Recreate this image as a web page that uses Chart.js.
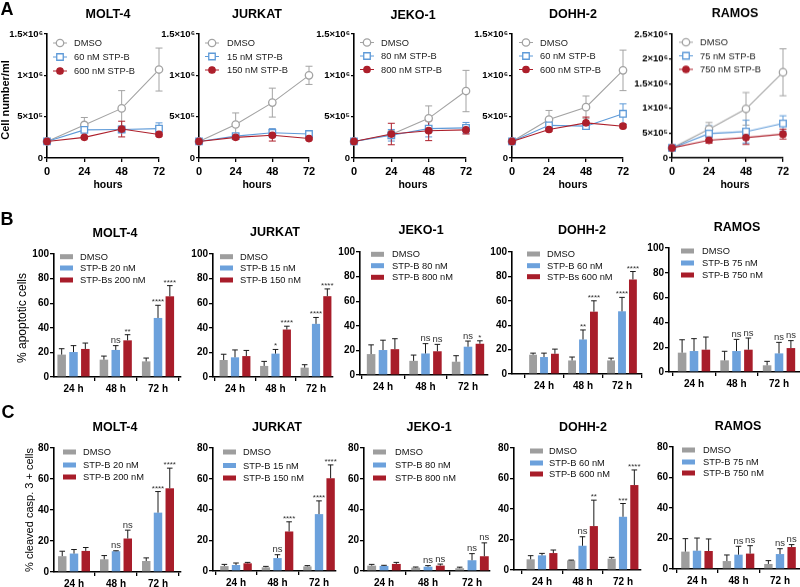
<!DOCTYPE html>
<html><head><meta charset="utf-8">
<script src="https://cdn.jsdelivr.net/npm/chart.js@4.4.1/dist/chart.umd.min.js"></script>
<style>
html,body{margin:0;padding:0;background:#fff;}
#root{position:relative;width:800px;height:587px;overflow:hidden;background:#fff;}
#root canvas{position:absolute;}
.txt{position:absolute;font-family:"Liberation Sans",Arial,sans-serif;color:#000;white-space:nowrap;line-height:1;}
</style></head><body>
<div id="root"></div>
<script>
// ================= DATA =================
const cellLines = ['MOLT-4', 'JURKAT', 'JEKO-1', 'DOHH-2', 'RAMOS'];
const hours = [0, 24, 48, 72];
const hourTickLabels = ['0', '24', '48', '72'];
const timeLabels = ['24 h', '48 h', '72 h'];
const aXTitle = 'hours';
const aYTitle = 'Cell number/ml';
const bYTitle = '% apoptotic cells';
const cYTitle = '% cleaved casp. 3 + cells';
const panelLetters = ['A', 'B', 'C'];
const aYTickLabels = ['0', '5×10⁵', '1×10⁶', '1.5×10⁶'];
const aYTickLabelsRamos = ['0', '5×10⁵', '1×10⁶', '1.5×10⁶', '2×10⁶', '2.5×10⁶'];
const bYTickLabels = ['0', '20', '40', '60', '80', '100'];
const cYTickLabels = ['0', '20', '40', '60', '80'];

// ---- A: cell number / ml ----
const aMolt4Legend = ['DMSO', '60 nM STP-B', '600 nM STP-B'];
const aMolt4Dmso = [200000, 400000, 600000, 1070000];
const aMolt4DmsoErr = [0, 90000, 215000, 260000];
const aMolt4Low = [200000, 340000, 345000, 355000];
const aMolt4LowErr = [0, 20000, 30000, 70000];
const aMolt4High = [200000, 250000, 350000, 285000];
const aMolt4HighErr = [0, 10000, 95000, 20000];

const aJurkatLegend = ['DMSO', '15 nM STP-B', '150 nM STP-B'];
const aJurkatDmso = [200000, 405000, 670000, 1000000];
const aJurkatDmsoErr = [0, 140000, 175000, 110000];
const aJurkatLow = [200000, 265000, 305000, 290000];
const aJurkatLowErr = [0, 20000, 50000, 20000];
const aJurkatHigh = [200000, 250000, 275000, 235000];
const aJurkatHighErr = [0, 20000, 70000, 15000];

const aJekoLegend = ['DMSO', '80 nM STP-B', '800 nM STP-B'];
const aJekoDmso = [200000, 285000, 480000, 810000];
const aJekoDmsoErr = [0, 50000, 150000, 250000];
const aJekoLow = [200000, 275000, 355000, 365000];
const aJekoLowErr = [0, 70000, 100000, 65000];
const aJekoHigh = [200000, 290000, 330000, 340000];
const aJekoHighErr = [0, 130000, 120000, 50000];

const aDohhLegend = ['DMSO', '60 nM STP-B', '600 nM STP-B'];
const aDohhDmso = [200000, 465000, 615000, 1060000];
const aDohhDmsoErr = [0, 110000, 135000, 245000];
const aDohhLow = [200000, 395000, 385000, 535000];
const aDohhLowErr = [0, 20000, 40000, 120000];
const aDohhHigh = [200000, 345000, 425000, 385000];
const aDohhHighErr = [0, 20000, 70000, 20000];

const aRamosLegend = ['DMSO', '75 nM STP-B', '750 nM STP-B'];
const aRamosDmso = [200000, 580000, 990000, 1730000];
const aRamosDmsoErr = [0, 135000, 330000, 475000];
const aRamosLow = [200000, 490000, 530000, 695000];
const aRamosLowErr = [0, 160000, 230000, 155000];
const aRamosHigh = [200000, 355000, 410000, 480000];
const aRamosHighErr = [0, 60000, 140000, 100000];

// ---- B: % apoptotic cells ----
const bMolt4Legend = ['DMSO', 'STP-B 20 nM', 'STP-Bs 200 nM'];
const bMolt4Dmso = [18.2, 14.1, 12.7];
const bMolt4DmsoErr = [4.8, 2.9, 2.7];
const bMolt4Low = [20.3, 22.0, 48.0];
const bMolt4LowErr = [5.2, 3.5, 10.3];
const bMolt4High = [22.8, 29.8, 65.6];
const bMolt4HighErr = [4.8, 4.6, 8.7];
const bMolt4SigLow = ['', 'ns', '****'];
const bMolt4SigHigh = ['', '**', '****'];

const bJurkatLegend = ['DMSO', 'STP-B 15 nM', 'STP-B 150 nM'];
const bJurkatDmso = [13.8, 9.0, 7.6];
const bJurkatDmsoErr = [4.7, 3.7, 2.4];
const bJurkatLow = [16.0, 19.0, 43.2];
const bJurkatLowErr = [6.0, 3.4, 5.2];
const bJurkatHigh = [17.0, 38.6, 65.7];
const bJurkatHighErr = [4.6, 2.7, 5.9];
const bJurkatSigLow = ['', '*', '****'];
const bJurkatSigHigh = ['', '****', '****'];

const bJekoLegend = ['DMSO', 'STP-B 80 nM', 'STP-B 800 nM'];
const bJekoDmso = [17.0, 11.5, 10.8];
const bJekoDmsoErr = [7.5, 4.7, 4.9];
const bJekoLow = [20.3, 17.5, 23.0];
const bJekoLowErr = [8.0, 8.0, 4.6];
const bJekoHigh = [21.0, 19.3, 25.4];
const bJekoHighErr = [8.5, 5.6, 2.4];
const bJekoSigLow = ['', 'ns', 'ns'];
const bJekoSigHigh = ['', 'ns', '*'];

const bDohhLegend = ['DMSO', 'STP-B 60 nM', 'STP-Bs 600 nM'];
const bDohhDmso = [15.8, 11.1, 11.1];
const bDohhDmsoErr = [1.3, 2.8, 1.9];
const bDohhLow = [13.9, 28.3, 51.4];
const bDohhLowErr = [3.2, 7.8, 11.4];
const bDohhHigh = [16.6, 51.1, 77.5];
const bDohhHighErr = [3.8, 8.9, 6.5];
const bDohhSigLow = ['', '**', '****'];
const bDohhSigHigh = ['', '****', '****'];

const bRamosLegend = ['DMSO', 'STP-B 75 nM', 'STP-B 750 nM'];
const bRamosDmso = [15.6, 9.4, 5.4];
const bRamosDmsoErr = [10.4, 7.3, 3.2];
const bRamosLow = [16.9, 16.9, 15.0];
const bRamosLowErr = [10.0, 9.4, 8.9];
const bRamosHigh = [18.0, 18.0, 19.3];
const bRamosHighErr = [10.2, 9.4, 6.0];
const bRamosSigLow = ['', 'ns', 'ns'];
const bRamosSigHigh = ['', 'ns', 'ns'];

// ---- C: % cleaved caspase-3 positive cells ----
const cMolt4Legend = ['DMSO', 'STP-B 20 nM', 'STP-B 200 nM'];
const cMolt4Dmso = [10.2, 8.2, 7.1];
const cMolt4DmsoErr = [3.2, 2.4, 2.0];
const cMolt4Low = [11.9, 13.4, 38.3];
const cMolt4LowErr = [2.6, 0.3, 13.6];
const cMolt4High = [13.6, 21.6, 54.0];
const cMolt4HighErr = [2.2, 5.4, 13.0];
const cMolt4SigLow = ['', 'ns', '****'];
const cMolt4SigHigh = ['', 'ns', '****'];

const cJurkatLegend = ['DMSO', 'STP-B 15 nM', 'STP-B 150 nM'];
const cJurkatDmso = [3.2, 2.4, 3.0];
const cJurkatDmsoErr = [1.1, 0.6, 0.5];
const cJurkatLow = [3.9, 8.4, 37.0];
const cJurkatLowErr = [1.3, 2.2, 8.6];
const cJurkatHigh = [5.0, 25.7, 60.3];
const cJurkatHighErr = [0.6, 6.3, 8.7];
const cJurkatSigLow = ['', 'ns', '****'];
const cJurkatSigHigh = ['', '****', '****'];

const cJekoLegend = ['DMSO', 'STP-B 80 nM', 'STP-B 800 nM'];
const cJekoDmso = [3.5, 2.2, 1.8];
const cJekoDmsoErr = [0.8, 0.4, 0.7];
const cJekoLow = [3.3, 2.8, 7.0];
const cJekoLowErr = [0.4, 0.7, 4.3];
const cJekoHigh = [4.6, 3.5, 9.6];
const cJekoHighErr = [1.0, 1.0, 8.7];
const cJekoSigLow = ['', 'ns', 'ns'];
const cJekoSigHigh = ['', 'ns', 'ns'];

const cDohhLegend = ['DMSO', 'STP-B 60 nM', 'STP-B 600 nM'];
const cDohhDmso = [7.0, 6.3, 7.4];
const cDohhDmsoErr = [2.4, 0.2, 0.9];
const cDohhLow = [9.6, 15.9, 34.9];
const cDohhLowErr = [1.3, 5.9, 8.7];
const cDohhHigh = [11.1, 28.8, 55.7];
const cDohhHighErr = [2.0, 17.0, 9.9];
const cDohhSigLow = ['', 'ns', '***'];
const cDohhSigHigh = ['', '**', '****'];

const cRamosLegend = ['DMSO', 'STP-B 75 nM', 'STP-B 750 nM'];
const cRamosDmso = [11.4, 5.2, 3.3];
const cRamosDmsoErr = [8.5, 4.0, 2.2];
const cRamosLow = [12.0, 9.4, 9.8];
const cRamosLowErr = [8.3, 5.5, 3.5];
const cRamosHigh = [11.8, 10.1, 14.4];
const cRamosHighErr = [7.9, 5.2, 1.6];
const cRamosSigLow = ['', 'ns', 'ns'];
const cRamosSigHigh = ['', 'ns', 'ns'];

// ================= LAYOUT (page pixel positions) =================
const FONT = '"Liberation Sans", Arial, sans-serif';
const LINE_STYLE = [
  {color: '#a3a3a3', pointStyle: 'circle', radius: 3.7, fill: '#ffffff'},
  {color: '#5e9ad8', pointStyle: 'rect', radius: 4.6, fill: '#ffffff'},
  {color: '#ad1f2b', pointStyle: 'circle', radius: 3.2, fill: '#ad1f2b'}
];
const BAR_COLORS = ['#9e9e9e', '#6ca1dc', '#a81d2a'];

const geoA = [
  {x0: 47, x1: 159, y0: 34, y1: 158, tx: 108, ty: 15, mx: 60, lx: 74, rows: [43, 57, 71]},
  {x0: 199, x1: 309, y0: 33.5, y1: 157.5, tx: 257, ty: 14, mx: 212, lx: 227, rows: [42.5, 56, 69.5]},
  {x0: 354, x1: 466, y0: 33.5, y1: 157.5, tx: 413, ty: 15, mx: 367, lx: 381, rows: [42, 55.5, 69]},
  {x0: 512, x1: 623, y0: 33.5, y1: 157.5, tx: 573, ty: 14, mx: 526, lx: 540, rows: [42, 55.5, 69]},
  {x0: 672, x1: 783, y0: 34, y1: 157.5, tx: 735, ty: 14, mx: 686, lx: 700, rows: [42, 55.5, 69]}
];
const geoB = [
  {x0: 54, x1: 181, y0: 254, y1: 377, c1: 73.5, c3: 158, tx: 115, ty: 234, bx: 60, lx: 80, rows: [256.7, 268, 280]},
  {x0: 213, x1: 333, y0: 254, y1: 377, c1: 235, c3: 316, tx: 275, ty: 233, bx: 220, lx: 240, rows: [256.7, 268, 280]},
  {x0: 360, x1: 488, y0: 252, y1: 375, c1: 383, c3: 468, tx: 421, ty: 231, bx: 371, lx: 392, rows: [254.3, 265.7, 277.3]},
  {x0: 512, x1: 642, y0: 252, y1: 374, c1: 544, c3: 622, tx: 582, ty: 231, bx: 527, lx: 547, rows: [254, 265.7, 276.7]},
  {x0: 669, x1: 800, y0: 248, y1: 372, c1: 694, c3: 779, tx: 737, ty: 228, bx: 681, lx: 702, rows: [251, 263, 275]}
];
const geoC = [
  {x0: 54, x1: 181, y0: 448, y1: 572, c1: 74, c3: 158, tx: 115, ty: 428, bx: 63, lx: 83, rows: [452, 465, 477]},
  {x0: 213, x1: 336, y0: 448, y1: 571, c1: 236, c3: 319, tx: 277, ty: 428, bx: 223, lx: 243, rows: [452, 465.5, 478]},
  {x0: 364, x1: 490, y0: 448, y1: 571, c1: 384, c3: 472, tx: 429, ty: 428, bx: 373, lx: 395, rows: [452, 465, 478]},
  {x0: 514, x1: 641, y0: 448, y1: 570, c1: 542, c3: 623, tx: 583, ty: 428, bx: 530, lx: 549, rows: [451, 463, 474]},
  {x0: 673, x1: 800, y0: 447, y1: 569, c1: 697, c3: 780, tx: 738, ty: 427, bx: 682, lx: 703, rows: [450, 462, 473]}
];

// ================= BUILD =================
Chart.defaults.font.family = FONT;
Chart.defaults.animation = false;
const root = document.getElementById('root');

function addText(text, x, y, size, weight, rotate) {
  const d = document.createElement('div');
  d.className = 'txt';
  d.textContent = text;
  d.style.fontSize = size + 'px';
  d.style.fontWeight = weight;
  d.style.left = x + 'px';
  d.style.top = y + 'px';
  d.style.transform = 'translate(-50%,-50%)' + (rotate ? ' rotate(-90deg)' : '');
  root.appendChild(d);
}

function makeCanvas(left, top, w, h) {
  const c = document.createElement('canvas');
  c.width = w; c.height = h;
  c.style.left = left + 'px'; c.style.top = top + 'px';
  c.style.width = w + 'px'; c.style.height = h + 'px';
  root.appendChild(c);
  return c;
}

const axisGrid = (len) => ({drawOnChartArea: false, drawTicks: true, tickLength: len, color: '#000', lineWidth: 1.3});
const axisBorder = {display: true, color: '#000', width: 1.6};

function linePanel(g, title, legend, series, yMax, yStep, yLabels) {
  const L = 50, T = 34, R = 16, B = 36;
  const left = g.x0 - L, top = g.y0 - T;
  const w = g.x1 - g.x0 + L + R, h = g.y1 - g.y0 + T + B;
  const cv = makeCanvas(left, top, w, h);
  const datasets = series.map((s, k) => ({
    label: legend[k],
    data: hours.map((hr, i) => ({x: hr, y: s[0][i]})),
    err: s[1],
    borderColor: LINE_STYLE[k].color,
    backgroundColor: LINE_STYLE[k].color,
    borderWidth: 1.1,
    pointStyle: LINE_STYLE[k].pointStyle,
    pointRadius: LINE_STYLE[k].radius,
    pointBorderWidth: 1.3,
    pointBackgroundColor: LINE_STYLE[k].fill,
    pointBorderColor: LINE_STYLE[k].color,
    order: 2 - k,
    clip: false,
    tension: 0
  }));
  const extra = {
    id: 'extraLine',
    beforeDatasetsDraw(chart) {
      const ctx = chart.ctx, ys = chart.scales.y;
      chart.data.datasets.forEach((ds, di) => {
        const meta = chart.getDatasetMeta(di);
        ctx.save();
        ctx.strokeStyle = ds.borderColor;
        ctx.lineWidth = 1;
        meta.data.forEach((pt, i) => {
          const e = ds.err[i];
          if (!e) return;
          const v = ds.data[i].y;
          const yt = ys.getPixelForValue(v + e), yb = ys.getPixelForValue(Math.max(0, v - e));
          ctx.beginPath();
          ctx.moveTo(pt.x, yt); ctx.lineTo(pt.x, yb);
          ctx.moveTo(pt.x - 3.5, yt); ctx.lineTo(pt.x + 3.5, yt);
          ctx.moveTo(pt.x - 3.5, yb); ctx.lineTo(pt.x + 3.5, yb);
          ctx.stroke();
        });
        ctx.restore();
      });
    },
    afterDraw(chart) {
      const ctx = chart.ctx;
      ctx.save();
      ctx.fillStyle = '#000';
      ctx.textAlign = 'center';
      ctx.textBaseline = 'middle';
      ctx.font = 'bold 12.5px ' + FONT;
      ctx.fillText(title, g.tx - left, g.ty - top);
      ctx.font = 'bold 10.5px ' + FONT;
      ctx.fillText(aXTitle, g.tx - left, g.y1 + 27 - top);
      // legend
      ctx.textAlign = 'left';
      ctx.font = '9.3px ' + FONT;
      legend.forEach((lab, k) => {
        const st = LINE_STYLE[k];
        const yy = g.rows[k] - top, xx = g.mx - left;
        ctx.strokeStyle = st.color;
        ctx.lineWidth = 1;
        ctx.beginPath(); ctx.moveTo(xx - 7, yy); ctx.lineTo(xx + 7, yy); ctx.stroke();
        ctx.fillStyle = st.fill;
        ctx.lineWidth = 1.3;
        Chart.helpers.drawPoint(ctx, {pointStyle: st.pointStyle, radius: st.radius, borderWidth: 1.3, rotation: 0}, xx, yy);
        ctx.fillStyle = '#222';
        ctx.fillText(lab, g.lx - left, yy + 0.5);
      });
      ctx.restore();
    }
  };
  new Chart(cv, {
    type: 'line',
    data: {datasets},
    options: {
      responsive: false, animation: false, events: [],
      layout: {padding: {left: 0, right: R, top: T, bottom: 0}},
      plugins: {legend: {display: false}, title: {display: false}, tooltip: {enabled: false}},
      scales: {
        x: {
          type: 'linear', min: 0, max: 72,
          afterBuildTicks: (s) => { s.ticks = hours.map(v => ({value: v})); },
          ticks: {callback: (v, i) => hourTickLabels[i], font: {size: 11, weight: 'bold'}, color: '#000', padding: 3, maxRotation: 0, autoSkip: false},
          grid: axisGrid(4), border: axisBorder,
          afterFit: (s) => { s.height = B; }
        },
        y: {
          type: 'linear', min: 0, max: yMax,
          afterBuildTicks: (s) => { s.ticks = yLabels.map((_, i) => ({value: i * yStep})); },
          ticks: {callback: (v, i) => yLabels[i], font: {size: 9.5, weight: 'bold'}, color: '#000', padding: 1, autoSkip: false},
          grid: axisGrid(3), border: axisBorder,
          afterFit: (s) => { s.width = L; }
        }
      }
    },
    plugins: [extra]
  });
}

function barPanel(g, title, legend, series, sigLow, sigHigh, yMax, yLabels) {
  const L = 50, T = 34, R = 16, B = 30;
  const left = g.x0 - L, top = g.y0 - T;
  const w = g.x1 - g.x0 + L + R, h = g.y1 - g.y0 + T + B;
  const cv = makeCanvas(left, top, w, h);
  const s = (g.c3 - g.c1) / 2;
  const xMin = 1 - (g.c1 - g.x0) / s;
  const xMax = 3 + (g.x1 - g.c3) / s;
  const sigs = [null, sigLow, sigHigh];
  const datasets = series.map((sr, k) => ({
    label: legend[k],
    data: sr[0].map((v, i) => ({x: i + 1, y: v})),
    err: sr[1],
    sig: sigs[k],
    backgroundColor: BAR_COLORS[k],
    borderWidth: 0,
    categoryPercentage: 0.84,
    barPercentage: 0.72
  }));
  const extra = {
    id: 'extraBar',
    afterDatasetsDraw(chart) {
      const ctx = chart.ctx, ys = chart.scales.y;
      ctx.save();
      chart.data.datasets.forEach((ds, di) => {
        const meta = chart.getDatasetMeta(di);
        meta.data.forEach((bar, i) => {
          const v = ds.data[i].y, e = ds.err[i];
          const yt = ys.getPixelForValue(v + e);
          ctx.strokeStyle = '#1a1a1a';
          ctx.lineWidth = 1;
          ctx.beginPath();
          ctx.moveTo(bar.x, bar.y); ctx.lineTo(bar.x, yt);
          ctx.moveTo(bar.x - 2.8, yt); ctx.lineTo(bar.x + 2.8, yt);
          ctx.stroke();
          if (ds.sig && ds.sig[i]) {
            const t = ds.sig[i];
            ctx.fillStyle = '#333';
            ctx.textAlign = 'center';
            ctx.textBaseline = 'alphabetic';
            if (t === 'ns') {
              ctx.font = '9.5px ' + FONT;
              ctx.fillText(t, bar.x, yt - 2.5);
            } else {
              ctx.font = '8px ' + FONT;
              ctx.fillText(t, bar.x, yt - 1);
            }
          }
        });
      });
      ctx.restore();
    },
    afterDraw(chart) {
      const ctx = chart.ctx;
      ctx.save();
      ctx.fillStyle = '#000';
      ctx.textAlign = 'center';
      ctx.textBaseline = 'middle';
      ctx.font = 'bold 12.5px ' + FONT;
      ctx.fillText(title, g.tx - left, g.ty - top);
      ctx.textAlign = 'left';
      ctx.font = '9.3px ' + FONT;
      legend.forEach((lab, k) => {
        const yy = g.rows[k] - top;
        ctx.fillStyle = BAR_COLORS[k];
        ctx.fillRect(g.bx - left, yy - 2.5, 13, 5);
        ctx.fillStyle = '#111';
        ctx.fillText(lab, g.lx - left, yy + 0.5);
      });
      ctx.restore();
    }
  };
  new Chart(cv, {
    type: 'bar',
    data: {datasets},
    options: {
      responsive: false, animation: false, events: [],
      layout: {padding: {left: 0, right: R, top: T, bottom: 0}},
      plugins: {legend: {display: false}, title: {display: false}, tooltip: {enabled: false}},
      scales: {
        x: {
          type: 'linear', min: xMin, max: xMax, offset: false,
          afterBuildTicks: (sc) => { sc.ticks = timeLabels.map((_, i) => ({value: i + 1})); },
          ticks: {callback: (v, i) => timeLabels[i], font: {size: 10, weight: 'bold'}, color: '#000', padding: 2, maxRotation: 0, autoSkip: false},
          grid: axisGrid(4), border: axisBorder,
          afterFit: (sc) => { sc.height = B; }
        },
        y: {
          type: 'linear', min: 0, max: yMax,
          afterBuildTicks: (sc) => { sc.ticks = yLabels.map((_, i) => ({value: i * 20})); },
          ticks: {callback: (v, i) => yLabels[i], font: {size: 10, weight: 'bold'}, color: '#000', padding: 1, autoSkip: false},
          grid: axisGrid(4), border: axisBorder,
          afterFit: (sc) => { sc.width = L; }
        }
      }
    },
    plugins: [extra]
  });
}

// ---- Row A ----
linePanel(geoA[0], cellLines[0], aMolt4Legend, [[aMolt4Dmso, aMolt4DmsoErr], [aMolt4Low, aMolt4LowErr], [aMolt4High, aMolt4HighErr]], 1500000, 500000, aYTickLabels);
linePanel(geoA[1], cellLines[1], aJurkatLegend, [[aJurkatDmso, aJurkatDmsoErr], [aJurkatLow, aJurkatLowErr], [aJurkatHigh, aJurkatHighErr]], 1500000, 500000, aYTickLabels);
linePanel(geoA[2], cellLines[2], aJekoLegend, [[aJekoDmso, aJekoDmsoErr], [aJekoLow, aJekoLowErr], [aJekoHigh, aJekoHighErr]], 1500000, 500000, aYTickLabels);
linePanel(geoA[3], cellLines[3], aDohhLegend, [[aDohhDmso, aDohhDmsoErr], [aDohhLow, aDohhLowErr], [aDohhHigh, aDohhHighErr]], 1500000, 500000, aYTickLabels);
linePanel(geoA[4], cellLines[4], aRamosLegend, [[aRamosDmso, aRamosDmsoErr], [aRamosLow, aRamosLowErr], [aRamosHigh, aRamosHighErr]], 2500000, 500000, aYTickLabelsRamos);

// ---- Row B ----
barPanel(geoB[0], cellLines[0], bMolt4Legend, [[bMolt4Dmso, bMolt4DmsoErr], [bMolt4Low, bMolt4LowErr], [bMolt4High, bMolt4HighErr]], bMolt4SigLow, bMolt4SigHigh, 100, bYTickLabels);
barPanel(geoB[1], cellLines[1], bJurkatLegend, [[bJurkatDmso, bJurkatDmsoErr], [bJurkatLow, bJurkatLowErr], [bJurkatHigh, bJurkatHighErr]], bJurkatSigLow, bJurkatSigHigh, 100, bYTickLabels);
barPanel(geoB[2], cellLines[2], bJekoLegend, [[bJekoDmso, bJekoDmsoErr], [bJekoLow, bJekoLowErr], [bJekoHigh, bJekoHighErr]], bJekoSigLow, bJekoSigHigh, 100, bYTickLabels);
barPanel(geoB[3], cellLines[3], bDohhLegend, [[bDohhDmso, bDohhDmsoErr], [bDohhLow, bDohhLowErr], [bDohhHigh, bDohhHighErr]], bDohhSigLow, bDohhSigHigh, 100, bYTickLabels);
barPanel(geoB[4], cellLines[4], bRamosLegend, [[bRamosDmso, bRamosDmsoErr], [bRamosLow, bRamosLowErr], [bRamosHigh, bRamosHighErr]], bRamosSigLow, bRamosSigHigh, 100, bYTickLabels);

// ---- Row C ----
barPanel(geoC[0], cellLines[0], cMolt4Legend, [[cMolt4Dmso, cMolt4DmsoErr], [cMolt4Low, cMolt4LowErr], [cMolt4High, cMolt4HighErr]], cMolt4SigLow, cMolt4SigHigh, 80, cYTickLabels);
barPanel(geoC[1], cellLines[1], cJurkatLegend, [[cJurkatDmso, cJurkatDmsoErr], [cJurkatLow, cJurkatLowErr], [cJurkatHigh, cJurkatHighErr]], cJurkatSigLow, cJurkatSigHigh, 80, cYTickLabels);
barPanel(geoC[2], cellLines[2], cJekoLegend, [[cJekoDmso, cJekoDmsoErr], [cJekoLow, cJekoLowErr], [cJekoHigh, cJekoHighErr]], cJekoSigLow, cJekoSigHigh, 80, cYTickLabels);
barPanel(geoC[3], cellLines[3], cDohhLegend, [[cDohhDmso, cDohhDmsoErr], [cDohhLow, cDohhLowErr], [cDohhHigh, cDohhHighErr]], cDohhSigLow, cDohhSigHigh, 80, cYTickLabels);
barPanel(geoC[4], cellLines[4], cRamosLegend, [[cRamosDmso, cRamosDmsoErr], [cRamosLow, cRamosLowErr], [cRamosHigh, cRamosHighErr]], cRamosSigLow, cRamosSigHigh, 80, cYTickLabels);

// ---- Panel letters and y-axis titles ----
addText(panelLetters[0], 7, 9, 18, 'bold', false);
addText(panelLetters[1], 7, 219, 18, 'bold', false);
addText(panelLetters[2], 8, 412, 18, 'bold', false);
addText(aYTitle, 5, 100, 11, 'bold', true);
addText(bYTitle, 22, 318, 12, 'normal', true);
addText(cYTitle, 29, 510, 11, 'normal', true);
</script>
</body></html>
